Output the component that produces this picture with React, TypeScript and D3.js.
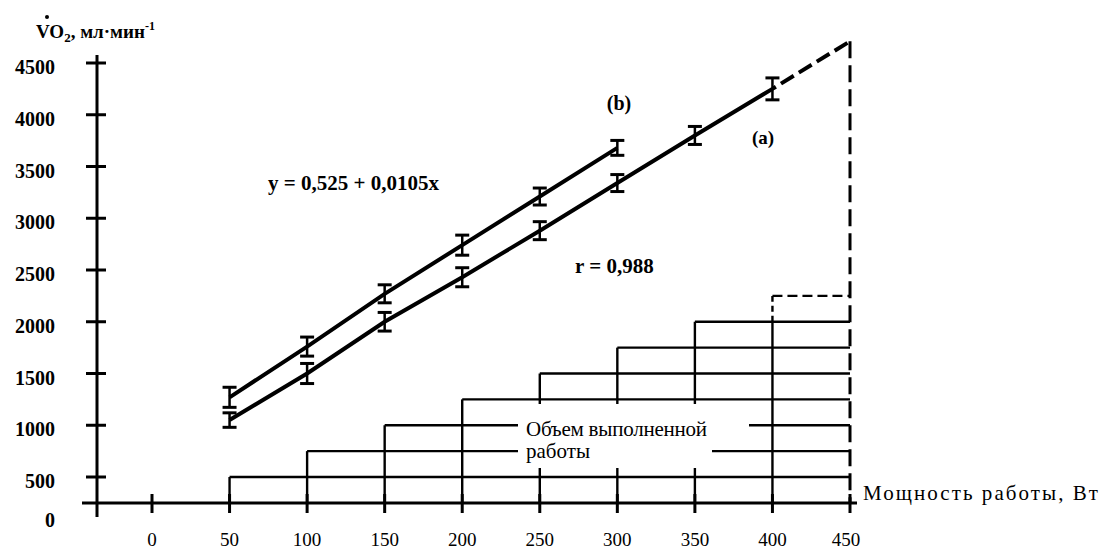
import React, { useEffect } from 'react';
import * as d3 from 'd3';

// ---- data ----
const xTicks = [0, 50, 100, 150, 200, 250, 300, 350, 400, 450];
const yTickMarks = [500, 1000, 1500, 2000, 2500, 3000, 3500, 4000, 4500];
const yTickLabels = [0, 500, 1000, 1500, 2000, 2500, 3000, 3500, 4000, 4500];

// line (a)
const powerA = [50, 100, 150, 200, 250, 300, 350, 400];
const vo2A = [1050, 1500, 2000, 2430, 2880, 3340, 3800, 4250];
const errA = [70, 97, 90, 92, 87, 82, 87, 106];
// dashed extrapolation of (a)
const powerAExt = [400, 450];
const vo2AExt = [4250, 4710];

// line (b)
const powerB = [50, 100, 150, 200, 250, 300];
const vo2B = [1270, 1760, 2270, 2740, 3210, 3680];
const errB = [97, 92, 87, 97, 82, 72];

// staircase "work done"
const stepStart = [50, 100, 150, 200, 250, 300, 350, 400];
const stepLevel = [500, 750, 1000, 1250, 1500, 1750, 2000, 2250];
const stepEnd = 450;

const FONT = 'Liberation Serif, DejaVu Serif, serif';

export default function App() {
  useEffect(() => {
    document.body.style.margin = '0';
  }, []);

  const x = d3.scaleLinear().domain([0, 450]).range([152, 850]);
  const y = d3.scaleLinear().domain([0, 500, 4500]).range([503, 477, 63]);
  const axisX = 97;
  const y0 = y(0);

  const line = d3
    .line<[number, number]>()
    .x((d) => x(d[0]))
    .y((d) => y(d[1]));

  const ptsA = powerA.map((p, i) => [p, vo2A[i]] as [number, number]);
  const ptsB = powerB.map((p, i) => [p, vo2B[i]] as [number, number]);
  const ptsExt = powerAExt.map((p, i) => [p, vo2AExt[i]] as [number, number]);
  const apex = vo2AExt[vo2AExt.length - 1];

  const errBar = (p: number, v: number, e: number, key: string) => (
    <g key={key} stroke="#000">
      <line x1={x(p)} x2={x(p)} y1={y(v - e)} y2={y(v + e)} strokeWidth={2.5} />
      <line x1={x(p) - 7} x2={x(p) + 7} y1={y(v - e)} y2={y(v - e)} strokeWidth={3} />
      <line x1={x(p) - 7} x2={x(p) + 7} y1={y(v + e)} y2={y(v + e)} strokeWidth={3} />
    </g>
  );

  const last = stepStart.length - 1;

  return (
    <svg
      width={1102}
      height={551}
      style={{ position: 'absolute', left: 0, top: 0, background: '#fff', fontFamily: FONT }}
    >
      <rect x={0} y={0} width={1102} height={551} fill="#fff" />

      {/* staircase */}
      <g stroke="#000" strokeWidth={2.4} fill="none">
        {stepStart.map((s, i) => {
          const lvl = stepLevel[i];
          const prev = i > 0 ? stepLevel[i - 1] : 0;
          if (i === last) {
            return (
              <g key={'st' + i}>
                <line x1={x(s)} x2={x(s)} y1={y0} y2={y(prev)} />
                <line x1={x(s)} x2={x(s)} y1={y(prev)} y2={y(lvl)} strokeDasharray="6 4" />
                <line x1={x(s)} x2={x(stepEnd)} y1={y(lvl)} y2={y(lvl)} strokeDasharray="10 5" />
              </g>
            );
          }
          return (
            <g key={'st' + i}>
              <line x1={x(s)} x2={x(s)} y1={y0} y2={y(lvl)} />
              <line x1={x(s)} x2={x(stepEnd)} y1={y(lvl)} y2={y(lvl)} />
            </g>
          );
        })}
      </g>

      {/* text masks */}
      <rect x={518} y={404} width={194} height={64} fill="#fff" />
      <rect x={712} y={414} width={37} height={16} fill="#fff" />

      {/* right dashed vertical */}
      <line
        x1={x(stepEnd)}
        x2={x(stepEnd)}
        y1={y(apex)}
        y2={y0}
        stroke="#000"
        strokeWidth={3}
        strokeDasharray="17 7"
      />

      {/* axes */}
      <g stroke="#000">
        <line x1={82} x2={857} y1={y0} y2={y0} strokeWidth={3} />
        <line x1={axisX} x2={axisX} y1={55} y2={517} strokeWidth={3} />
        {xTicks.map((t) => (
          <line key={'xt' + t} x1={x(t)} x2={x(t)} y1={y0 - 9} y2={y0 + 10} strokeWidth={3} />
        ))}
        {yTickMarks.map((t) => (
          <line key={'yt' + t} x1={axisX - 11} x2={axisX + 9} y1={y(t)} y2={y(t)} strokeWidth={3} />
        ))}
      </g>

      {/* regression lines */}
      <path d={line(ptsA) || ''} stroke="#000" strokeWidth={4} fill="none" />
      <path d={line(ptsB) || ''} stroke="#000" strokeWidth={4} fill="none" />
      <path
        d={line(ptsExt) || ''}
        stroke="#000"
        strokeWidth={4}
        fill="none"
        strokeDasharray="15 6"
        strokeDashoffset={-10}
      />
      {powerA.map((p, i) => errBar(p, vo2A[i], errA[i], 'ea' + i))}
      {powerB.map((p, i) => errBar(p, vo2B[i], errB[i], 'eb' + i))}

      {/* y tick labels */}
      <g fontSize={20} fontWeight={700} textAnchor="end" fontFamily={FONT}>
        {yTickLabels.map((t) => (
          <text key={'yl' + t} x={55} y={t === 0 ? y(t) + 24 : y(t) + 11}>
            {t}
          </text>
        ))}
      </g>

      {/* x tick labels */}
      <g fontSize={19} textAnchor="middle" fontFamily={FONT}>
        {xTicks.map((t) => (
          <text key={'xl' + t} x={x(t) - (t === 450 ? 4 : 0)} y={546}>
            {t}
          </text>
        ))}
      </g>

      {/* title */}
      <text x={36} y={38} fontSize={19} fontWeight={700} fontFamily={FONT}>
        VO
        <tspan fontSize={13} dy={4}>2</tspan>
        <tspan dy={-4}>, мл·мин</tspan>
        <tspan fontSize={12} dy={-8}>-1</tspan>
      </text>
      <circle cx={47} cy={17} r={2} fill="#000" />

      {/* annotations */}
      <g fontFamily={FONT}>
        <text x={619} y={110} fontSize={20} fontWeight={700} textAnchor="middle">(b)</text>
        <text x={763} y={144} fontSize={19} fontWeight={700} textAnchor="middle">(a)</text>
        <text x={268} y={190} fontSize={21} fontWeight={700}>
          y = 0,525 + 0,0105x
        </text>
        <text x={575} y={273} fontSize={21} fontWeight={700}>
          r = 0,988
        </text>
        <text x={526} y={436} fontSize={21} textLength={181} lengthAdjust="spacing">
          Объем выполненной
        </text>
        <text x={526} y={458} fontSize={21}>
          работы
        </text>
        <text x={863} y={500} fontSize={21} textLength={235} lengthAdjust="spacing">
          Мощность работы, Вт
        </text>
      </g>
    </svg>
  );
}
